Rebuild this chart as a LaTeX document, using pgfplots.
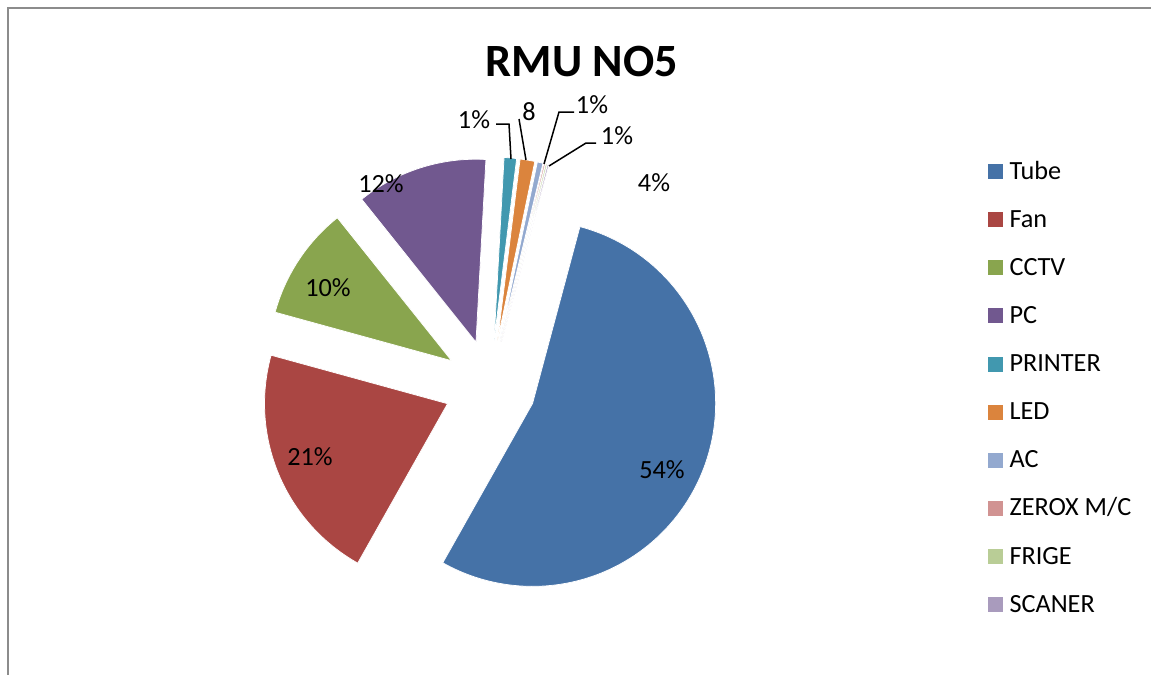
\documentclass[border=0pt]{standalone}
\usepackage{fontspec}
\setmainfont{Carlito}
\usepackage{pgfplots}
\usepackage{pgfplotstable}
\pgfplotsset{compat=1.18}
\definecolor{pie0}{HTML}{4572A7}
\definecolor{pie1}{HTML}{AA4643}
\definecolor{pie2}{HTML}{89A54E}
\definecolor{pie3}{HTML}{71588F}
\definecolor{pie4}{HTML}{4198AF}
\definecolor{pie5}{HTML}{DB843D}
\definecolor{pie6}{HTML}{93A9CF}
\definecolor{pie7}{HTML}{D19392}
\definecolor{pie8}{HTML}{B9CD96}
\definecolor{pie9}{HTML}{A99BBD}
\definecolor{framegray}{HTML}{8C8C8C}
\pgfplotstableread{
name value
Tube 54.0
Fan 21.1
CCTV 10.0
PC 11.6
PRINTER 1.1
LED 1.3
AC 0.5
ZEROX 0.13
FRIGE 0.13
SCANER 0.13
}\piedata
\begin{document}
\begin{tikzpicture}
\pgfplotstablegetrowsof{\piedata}
\pgfmathtruncatemacro\pieN{\pgfplotsretval-1}
\gdef\piecum{15}
\foreach \i in {0,...,\pieN}{
  \pgfplotstablegetelem{\i}{value}\of\piedata
  \pgfmathsetmacro\tA{\piecum}
  \pgfmathsetmacro\tB{\piecum+3.6*\pgfplotsretval}
  \pgfmathsetmacro\pA{90-\tA}
  \pgfmathsetmacro\pB{90-\tB}
  \pgfmathsetmacro\pM{90-0.5*(\tA+\tB)}
  \pgfmathsetmacro\vx{490+46*cos(\pM)}
  \pgfmathsetmacro\vy{289+46*sin(\pM)}
  \pgfmathsetmacro\ox{\vx+183*cos(\pA)}
  \pgfmathsetmacro\oy{\vy+183*sin(\pA)}
  \expandafter\xdef\csname pieA\i\endcsname{\pA}
  \expandafter\xdef\csname pieB\i\endcsname{\pB}
  \expandafter\xdef\csname pieVX\i\endcsname{\vx}
  \expandafter\xdef\csname pieVY\i\endcsname{\vy}
  \expandafter\xdef\csname pieOX\i\endcsname{\ox}
  \expandafter\xdef\csname pieOY\i\endcsname{\oy}
  \xdef\piecum{\tB}
}
\begin{axis}[
  name=ax,
  scale only axis, width=460.4pt, height=270pt,
  xmin=0, xmax=1151, ymin=0, ymax=675,
  hide axis, clip=false,
  legend style={at={(axis cs:987,513.5)}, anchor=north west, draw=none, fill=none,
    inner sep=0pt, row sep=12.45pt, column sep=2.8pt, font=\fontsize{10.5}{12}\selectfont,
    nodes={inner sep=0pt, text height=6.8pt, text depth=0pt},
    legend cell align=left},
  legend image code/.code={\fill[#1] (0pt,-3.2pt) rectangle (5.6pt,2.4pt);},
]
\pgfplotsinvokeforeach{0,...,9}{
  \fill[pie#1, draw=white, line width=0.3pt]
    (axis cs:\csname pieVX#1\endcsname,\csname pieVY#1\endcsname) --
    (axis cs:\csname pieOX#1\endcsname,\csname pieOY#1\endcsname)
    arc[start angle=\csname pieA#1\endcsname, end angle=\csname pieB#1\endcsname, radius=73.2pt] -- cycle;
}
\addlegendimage{pie0}\addlegendentry{Tube}
\addlegendimage{pie1}\addlegendentry{Fan}
\addlegendimage{pie2}\addlegendentry{CCTV}
\addlegendimage{pie3}\addlegendentry{PC}
\addlegendimage{pie4}\addlegendentry{PRINTER}
\addlegendimage{pie5}\addlegendentry{LED}
\addlegendimage{pie6}\addlegendentry{AC}
\addlegendimage{pie7}\addlegendentry{ZEROX M/C}
\addlegendimage{pie8}\addlegendentry{FRIGE}
\addlegendimage{pie9}\addlegendentry{SCANER}
% frame
\draw[framegray, line width=0.8pt] (axis cs:7.5,0) -- (axis cs:7.5,667) -- (axis cs:1151,667);
% title
\node[font=\bfseries\fontsize{18.5}{22}\selectfont] at (axis cs:582,613) {RMU NO5};
% data labels
\begin{scope}[every node/.style={font=\fontsize{10.5}{12}\selectfont, inner sep=0pt}]
\node at (axis cs:662,205) {54\%};
\node at (axis cs:310,218) {21\%};
\node at (axis cs:328,387) {10\%};
\node at (axis cs:381,491) {12\%};
\node at (axis cs:474,555) {1\%};
\node at (axis cs:529,563) {8};
\node at (axis cs:592,570) {1\%};
\node at (axis cs:617,539) {1\%};
\node at (axis cs:654,492) {4\%};
\end{scope}
\draw[black, line width=0.6pt] (axis cs:496,551) -- (axis cs:509,551) -- (axis cs:511,516);
\draw[black, line width=0.6pt] (axis cs:519,556) -- (axis cs:526,515);
\draw[black, line width=0.6pt] (axis cs:574,563) -- (axis cs:559,563) -- (axis cs:544,511);
\draw[black, line width=0.6pt] (axis cs:596,532) -- (axis cs:586,532) -- (axis cs:549,509);
\end{axis}
\pgfresetboundingbox
\path (ax.south west) rectangle (ax.north east);
\end{tikzpicture}
\end{document}
